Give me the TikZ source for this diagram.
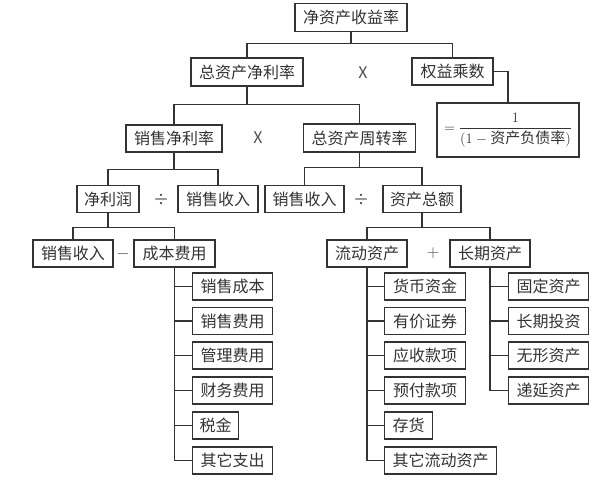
\documentclass[tikz,border=0pt]{standalone}
\usepackage{amsmath}
\usepackage{fontspec}
\setmainfont{Noto Sans CJK SC}
\begin{document}
\begin{tikzpicture}[x=1pt,y=-1pt,
  bx/.style={draw=black!80, line width=1.1pt, minimum height=27pt, inner sep=0pt,
    font=\fontsize{16}{19}\selectfont, text=black!80},
  ln/.style={draw=black!80, line width=1.1pt},
  op/.style={font=\fontsize{16}{19}\selectfont, text=black!70, inner sep=0pt}]
\useasboundingbox[fill=white] (0,0) rectangle (600,480);
% main boxes
\node[bx, minimum width=112pt, minimum height=28pt] (roe) at (351,17.5) {净资产收益率};
\node[bx, minimum width=112pt, minimum height=28pt] (zzjll) at (247,72) {总资产净利率};
\node[bx, minimum width=81pt] (qycs) at (452.5,71.5) {权益乘数};
\node[bx, minimum width=142pt, minimum height=54pt, font=\fontsize{15}{18}\selectfont] (gs) at (508,130)
  {$=\dfrac{1}{(1-\text{资产负债率})}$};
\node[bx, minimum width=96pt] (xsjll) at (174,138.5) {销售净利率};
\node[bx, minimum width=112pt, minimum height=28pt] (zzczzl) at (359.5,138) {总资产周转率};
\node[bx, minimum width=62pt] (jlr) at (108,199) {净利润};
\node[bx, minimum width=80pt] (sr1) at (218,199) {销售收入};
\node[bx, minimum width=79pt] (sr2) at (304.5,199) {销售收入};
\node[bx, minimum width=78pt] (zcze) at (422,199) {资产总额};
\node[bx, minimum width=80pt] (sr3) at (73,253.5) {销售收入};
\node[bx, minimum width=81pt] (cbfy) at (174.5,253.5) {成本费用};
\node[bx, minimum width=80pt] (ldzc) at (367,253.5) {流动资产};
\node[bx, minimum width=80pt] (cqzc) at (490,253.5) {长期资产};
% children of 成本费用
\node[bx, anchor=west, minimum width=80pt] (cb1) at (192,286.5) {销售成本};
\node[bx, anchor=west, minimum width=80pt] (cb2) at (192,321) {销售费用};
\node[bx, anchor=west, minimum width=80pt] (cb3) at (192,355.5) {管理费用};
\node[bx, anchor=west, minimum width=80pt] (cb4) at (192,390.5) {财务费用};
\node[bx, anchor=west, minimum width=46pt] (cb5) at (192,425.5) {税金};
\node[bx, anchor=west, minimum width=80pt] (cb6) at (192,460.5) {其它支出};
% children of 流动资产
\node[bx, anchor=west, minimum width=81pt] (ld1) at (384,286.5) {货币资金};
\node[bx, anchor=west, minimum width=81pt] (ld2) at (384,321) {有价证券};
\node[bx, anchor=west, minimum width=81pt] (ld3) at (384,355.5) {应收款项};
\node[bx, anchor=west, minimum width=81pt] (ld4) at (384,390.5) {预付款项};
\node[bx, anchor=west, minimum width=48pt] (ld5) at (384,425.5) {存货};
\node[bx, anchor=west, minimum width=112pt] (ld6) at (384,460.5) {其它流动资产};
% children of 长期资产
\node[bx, anchor=west, minimum width=80pt] (cq1) at (508,286.5) {固定资产};
\node[bx, anchor=west, minimum width=80pt] (cq2) at (508,321) {长期投资};
\node[bx, anchor=west, minimum width=80pt] (cq3) at (508,355.5) {无形资产};
\node[bx, anchor=west, minimum width=80pt] (cq4) at (508,390.5) {递延资产};
% operators
\node[op] (op1) at (363,73) {X};
\node[op] (op2) at (258,138) {X};
\node[op] (op3) at (161,200) {÷};
\node[op] (op4) at (361,200) {÷};
\node[op] (op5) at (123,254) {$-$};
\node[op] (op6) at (433,253) {$+$};
% connectors
\draw[ln] (roe.south) -- ++(0,11) -| (zzjll.north);
\draw[ln] (roe.south) -- ++(0,11) -| (qycs.north);
\draw[ln] (qycs.east) -| (gs.north);
\draw[ln] (zzjll.south) -- ++(0,18) -| (xsjll.north);
\draw[ln] (zzjll.south) -- ++(0,18) -| (zzczzl.north);
\draw[ln] (xsjll.south) -- ++(0,17) -| (jlr.north);
\draw[ln] (xsjll.south) -- ++(0,17) -| (sr1.north);
\draw[ln] (zzczzl.south) -- ++(0,15) -| (sr2.north);
\draw[ln] (zzczzl.south) -- ++(0,15) -| (zcze.north);
\draw[ln] (jlr.south) -- ++(0,14) -| (sr3.north);
\draw[ln] (jlr.south) -- ++(0,14) -| (cbfy.north);
\draw[ln] (zcze.south) -- ++(0,14) -| (ldzc.north);
\draw[ln] (zcze.south) -- ++(0,14) -| (cqzc.north);
\foreach \c in {cb1,cb2,cb3,cb4,cb5,cb6} \draw[ln] (cbfy.south) |- (\c.west);
\foreach \c in {ld1,ld2,ld3,ld4,ld5,ld6} \draw[ln] (ldzc.south) |- (\c.west);
\foreach \c in {cq1,cq2,cq3,cq4} \draw[ln] (cqzc.south) |- (\c.west);
\end{tikzpicture}
\end{document}
